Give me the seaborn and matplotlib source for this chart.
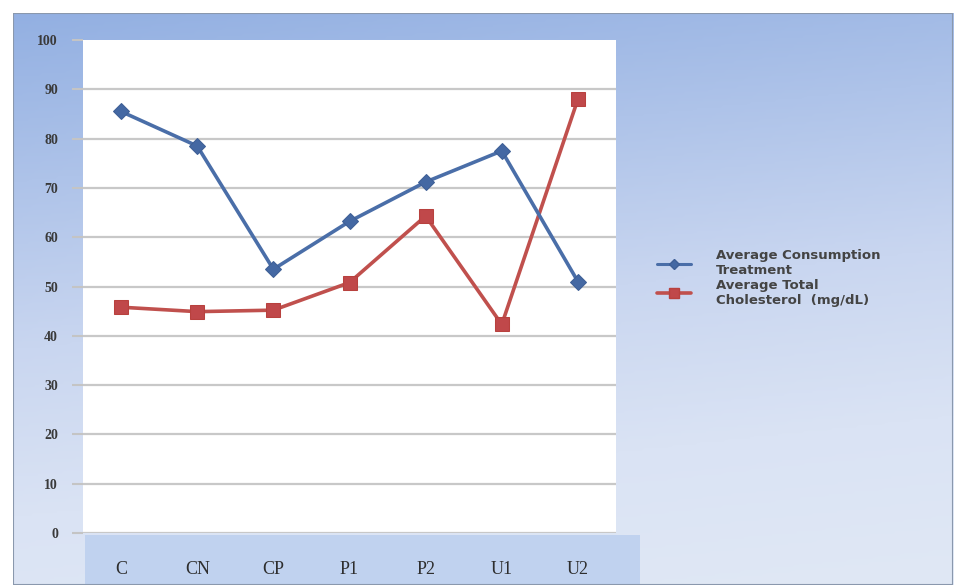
import numpy as np
import pandas as pd
import matplotlib
matplotlib.use("Agg")
import matplotlib.pyplot as plt
from matplotlib.patches import Rectangle
from matplotlib.lines import Line2D
from matplotlib.colors import LinearSegmentedColormap
import seaborn as sns

# Treatment groups
groups = ["C", "CN", "CP", "P1", "P2", "U1", "U2"]
# Average consumption per treatment group
consumption = [85.5, 78.5, 53.5, 63.2, 71.2, 77.5, 51.0]
# Average total cholesterol (mg/dL) per group
cholesterol = [45.8, 44.9, 45.2, 50.8, 64.3, 42.3, 88.0]

label_consumption = "Average Consumption\nTreatment"
label_cholesterol = "Average Total\nCholesterol  (mg/dL)"

y_ticks = list(range(0, 101, 10))

sns.set_theme(style="white")
plt.rcParams["font.family"] = ["DejaVu Sans"]

W, H = 955, 585
fig = plt.figure(figsize=(W / 100, H / 100), dpi=100, facecolor="white")

def fx(px):
    return px / W

def fy(py):
    return 1 - py / H

# Chart-area backdrop: soft blue gradient
bg = fig.add_axes([fx(13), 0, fx(953) - fx(13), fy(13)])
bg.set_zorder(-5)
bg.set_axis_off()
cmap = LinearSegmentedColormap.from_list(
    "backdrop", ["#93b0e2", "#aec3e9", "#c9d6f0", "#dae3f4", "#e0e8f5"])
ny, nx = 200, 300
yy = np.linspace(0, 1, ny)[:, None]
xx = np.linspace(0, 1, nx)[None, :]
grad = np.clip(yy * 0.85 + xx * 0.15, 0, 1)
bg.imshow(grad, cmap=cmap, aspect="auto", extent=[0, 1, 0, 1], origin="upper")
bg.set_xlim(0, 1)
bg.set_ylim(0, 1)
# Category-label band beneath the plot area
bg.add_patch(Rectangle((fx(85), 0), fx(640) - fx(85), fy(535),
                       transform=fig.transFigure, facecolor="#c0d2ef",
                       edgecolor="none", zorder=2, clip_on=False))
bg.add_patch(Rectangle((0, 0), 1, 1, fill=False, edgecolor="#8a98ad", lw=1.5,
                       transform=bg.transAxes, zorder=3))

ax = fig.add_axes([fx(83), fy(533), fx(616) - fx(83), fy(40) - fy(533)])
ax.set_zorder(1)
ax.set_facecolor("white")

df = pd.DataFrame({
    "group": groups * 2,
    "value": consumption + cholesterol,
    "series": [label_consumption] * len(groups) + [label_cholesterol] * len(groups),
})

blue = "#4a6ea8"
red = "#c0504d"

sns.lineplot(data=df[df.series == label_consumption], x="group", y="value",
             color=blue, lw=2.6, marker="D", markersize=8,
             markeredgecolor="#3e5f96", markerfacecolor="#4468a3",
             ax=ax, legend=False, sort=False, zorder=4)
sns.lineplot(data=df[df.series == label_cholesterol], x="group", y="value",
             color=red, lw=2.6, marker="s", markersize=10,
             markeredgecolor="#b8413e", markerfacecolor="#c0484a",
             ax=ax, legend=False, sort=False, zorder=3)

ax.set_xlim(-0.5, len(groups) - 0.5)
ax.set_ylim(0, 100)
ax.set_yticks(y_ticks)
ax.set_yticklabels([str(t) for t in y_ticks], family="Liberation Serif",
                   fontsize=10, fontweight="bold", color="#3a3a3a")
ax.set_xticks(range(len(groups)))
ax.set_xticklabels(groups, family="Liberation Serif", fontsize=13,
                   color="#2e2e2e")
ax.tick_params(axis="x", length=0, pad=20)
ax.tick_params(axis="y", length=8, color="#c4c4c4", width=1.5, pad=10, left=True)
ax.set_xlabel("")
ax.set_ylabel("")
for y in y_ticks[:-1]:
    ax.axhline(y, color="#c8c8c8", lw=1.6, zorder=1)
for s in ax.spines.values():
    s.set_visible(False)

handles = [
    Line2D([], [], color=blue, lw=2.2, marker="D", markersize=5,
           markerfacecolor="#4468a3", markeredgecolor="#3e5f96"),
    Line2D([], [], color=red, lw=2.6, marker="s", markersize=7,
           markerfacecolor="#c0484a", markeredgecolor="#b8413e"),
]
fig.legend(handles, [label_consumption, label_cholesterol],
           loc="center left", bbox_to_anchor=(fx(645), fy(278)),
           frameon=False, handlelength=2.6, handletextpad=1.9,
           labelspacing=0.1, prop={"family": "DejaVu Sans", "size": 9.5,
                                   "weight": "bold"},
           labelcolor="#444444")

fig.savefig("out.png", dpi=100, facecolor="white")
